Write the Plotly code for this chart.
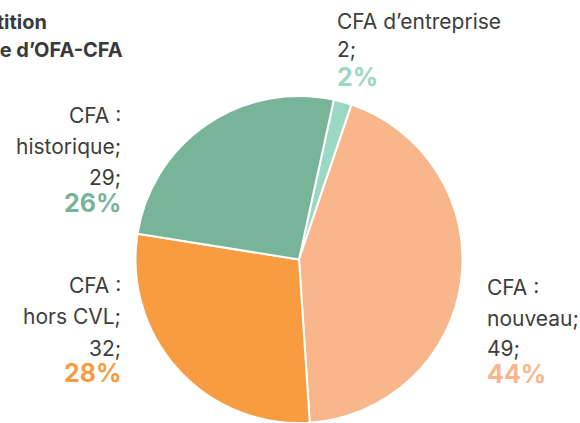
import plotly.graph_objects as go

labels = ["CFA d’entreprise", "CFA : nouveau", "CFA : hors CVL", "CFA : historique"]
label_lines = [["CFA d’entreprise"], ["CFA :", "nouveau;"], ["CFA :", "hors CVL;"], ["CFA :", "historique;"]]
values = [2, 49, 32, 29]
percents = ["2%", "44%", "28%", "26%"]
colors = ["#9bd8c4", "#f9b68b", "#f79c40", "#78b498"]
title_lines = ["Répartition", "par type d’OFA-CFA"]

W, H = 580, 423
cx, cy, r = 299, 260, 164

fig = go.Figure(go.Pie(
    labels=labels, values=values, sort=False, direction="clockwise", rotation=12.3,
    marker=dict(colors=colors, line=dict(color="white", width=2)),
    textinfo="none", hoverinfo="label+value+percent",
    domain=dict(x=[(cx - r) / W, (cx + r) / W], y=[max(0, (H - cy - r) / H), (H - cy + r) / H]),
))

FONT = "Inter"
TXT = "#3d3d3d"
# per label: x px, anchor, y px (line middles) for text lines then percent line
placements = [
    (336, "left", [22, 49.5], 76.5),
    (486, "left", [287, 318, 348], 373.5),
    (122, "right", [285.5, 316, 348], 373),
    (122, "right", [115.5, 147, 177.5], 202.5),
]

def ann(px, py, text, anc, size, color):
    fig.add_annotation(x=px / W, y=1 - py / H, xref="paper", yref="paper",
                       xanchor=anc, yanchor="middle", align=anc, showarrow=False,
                       borderpad=0,
                       text=text, font=dict(family=FONT, size=size, color=color))

for i, (px, anc, ys, py_pct) in enumerate(placements):
    lines = label_lines[i] + [f"{values[i]};"]
    for line, py in zip(lines, ys):
        ann(px, py, line, anc, 21, TXT)
    ann(px, py_pct, f"<b>{percents[i]}</b>", anc, 25, colors[i])

title_pos = [(48, 22), (124, 49.5)]
for line, (px, py) in zip(title_lines, title_pos):
    ann(px, py, f"<b>{line}</b>", "right", 20, "#3a3a3a")

fig.update_layout(width=W, height=H, margin=dict(l=0, r=0, t=0, b=0), showlegend=False,
                  paper_bgcolor="white", plot_bgcolor="white")
fig.write_html("out.html")
